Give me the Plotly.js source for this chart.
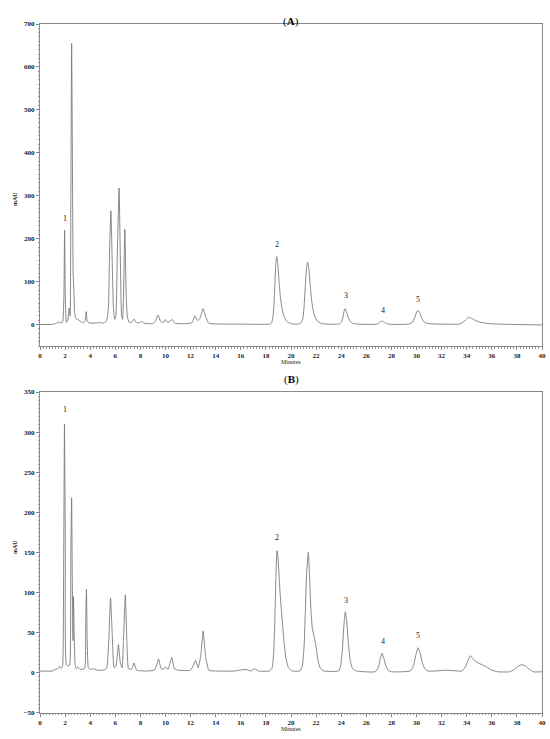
<!DOCTYPE html>
<html>
<head>
<meta charset="utf-8">
<script src="https://cdn.plot.ly/plotly-3.0.1.min.js"></script>
<style>html,body{margin:0;padding:0;background:#fff;}#chart{width:550px;height:739px;}</style>
</head>
<body>
<div id="chart"></div>
<script>
// Chromatogram (A): retention time (min) and absorbance (mAU)
const timeA = [0,1.0,1.2,1.4,1.55,1.65,1.8,1.9,1.96,2.02,2.1,2.2,2.32,2.4,2.46,2.52,2.58,2.64,2.7,2.76,2.85,3.0,3.2,3.4,3.6,3.68,3.76,3.9,4.2,4.6,4.8,5.0,5.3,5.45,5.55,5.65,5.75,5.85,5.95,6.05,6.15,6.3,6.42,6.5,6.58,6.65,6.76,6.86,6.95,7.1,7.3,7.5,7.65,7.9,8.1,8.3,9.0,9.2,9.4,9.6,9.8,10.0,10.2,10.5,10.75,11.5,12.1,12.35,12.55,12.75,13.0,13.2,13.45,14.5,16,17,
  18.3,18.45,18.55,18.65,18.72,18.8,18.87,18.95,19.05,19.15,19.3,19.45,19.65,19.9,20.2,
  20.6,20.8,20.95,21.05,21.15,21.25,21.33,21.42,21.52,21.62,21.75,21.9,22.1,22.4,22.8,
  23.8,24.0,24.12,24.22,24.32,24.42,24.55,24.7,24.9,25.3,
  26.8,27.0,27.2,27.35,27.55,27.9,
  29.4,29.7,29.9,30.05,30.15,30.3,30.45,30.65,31.0,
  33.4,33.7,33.95,34.15,34.35,34.6,34.9,35.3,35.8,36.5,38.0,40];
const mAU_A = [0,0.5,2,4,6,4,5,60,220,60,5,8,38,20,300,655,400,120,78,30,14,12,8,4,8,30,8,4,3,4,5,3,8,40,180,265,150,40,12,20,150,318,120,20,12,60,222,80,20,5,5,13,5,4,7,3,2,8,22,8,4,12,4,12,3,2,4,20,9,15,37,18,3,1,1,0.5,
  1,4,15,50,100,145,158,140,100,65,35,18,8,3,1,
  1,4,15,45,95,135,145,130,95,62,35,18,8,3,1,
  1,5,15,30,37,30,17,8,3,1,
  0.5,3,8,7,3,0.5,
  1,6,20,31,32,24,13,5,2,
  1,5,12,17,15,11,7,4,2,1,0,-1];

// Chromatogram (B)
const timeB = [0,1.0,1.2,1.45,1.55,1.7,1.8,1.88,1.95,2.02,2.1,2.3,2.4,2.46,2.52,2.57,2.63,2.67,2.72,2.8,2.9,3.0,3.2,3.55,3.64,3.7,3.76,3.85,4.0,4.2,4.6,5.0,5.3,5.45,5.62,5.75,5.9,6.05,6.25,6.4,6.55,6.65,6.8,6.92,7.05,7.3,7.5,7.7,8.5,9.1,9.3,9.45,9.65,9.85,10.0,10.2,10.5,10.7,11.0,12.0,12.4,12.6,12.8,13.0,13.2,13.45,14.0,15.5,16.4,16.8,17.1,17.4,
  18.3,18.5,18.62,18.72,18.8,18.88,18.96,19.05,19.15,19.3,19.45,19.6,19.8,20.1,
  20.7,20.9,21.05,21.15,21.25,21.38,21.48,21.58,21.7,21.85,22.0,22.15,22.35,22.6,
  23.8,23.95,24.1,24.22,24.33,24.45,24.58,24.72,24.9,25.2,
  26.7,26.95,27.1,27.25,27.4,27.55,27.75,28.0,
  29.5,29.75,29.95,30.12,30.3,30.45,30.65,30.9,
  31.5,32.4,33.3,
  33.6,33.9,34.1,34.3,34.5,34.8,35.2,35.6,36.0,36.5,
  37.4,37.8,38.1,38.4,38.7,39.0,39.3,40];
const mAU_B = [2,2,4,5,8,5,8,120,310,150,10,8,15,150,218,120,40,95,50,10,5,7,4,5,60,104,40,6,4,5,3,3,5,30,93,50,6,8,35,12,6,40,97,40,5,4,12,3,2,3,10,17,5,4,7,4,19,5,3,3,15,6,20,52,20,3,2,2,4,2,5,2,
  2,6,25,70,120,152,145,120,95,65,38,18,6,2,
  2,8,35,80,125,150,120,80,55,45,32,15,5,2,
  2,8,30,60,76,62,35,15,5,2,
  1,6,16,24,18,9,3,1,
  2,8,22,31,24,13,5,2,
  2,3,2,
  2,7,15,21,17,13,10,7,3,1,
  1,4,8,10,8,4,1,1];

// Peak labels
const peakNames = ["1","2","3","4","5"];
const peakTimeA = [2.0,18.9,24.4,27.3,30.1];
const peakLabelA = [232,172,52,17,42];
const peakTimeB = [2.0,18.9,24.4,27.3,30.1];
const peakLabelB = [320,160,82,31,38];

const lineColor = '#7a7a7a';
const serif = 'Liberation Serif, Times New Roman, serif';

const traces = [
  {x: timeA, y: mAU_A, type:'scatter', mode:'lines', line:{color:lineColor, width:0.9, shape:'spline', smoothing:0.4}, xaxis:'x', yaxis:'y', hoverinfo:'skip'},
  {x: timeB, y: mAU_B, type:'scatter', mode:'lines', line:{color:lineColor, width:0.9, shape:'spline', smoothing:0.4}, xaxis:'x2', yaxis:'y2', hoverinfo:'skip'}
];

function xax(anchor){
  return {anchor:anchor, range:[0,40], dtick:2, tick0:0, showgrid:false, zeroline:false,
    showline:true, linecolor:'#888', linewidth:1, mirror:true,
    ticks:'outside', ticklen:3, tickcolor:'#888',
    minor:{dtick:0.25, ticks:'outside', ticklen:1.5, tickcolor:'#999', showgrid:false},
    tickfont:{family:serif, size:7, color:'#222', weight:'bold'}};
}
function yax(anchor, range, dtick, mdt, dom){
  return {anchor:anchor, domain:dom, range:range, dtick:dtick, tick0:0, showgrid:false, zeroline:false,
    showline:true, linecolor:'#888', linewidth:1, mirror:true,
    ticks:'outside', ticklen:3, tickcolor:'#888',
    minor:{dtick:mdt, ticks:'outside', ticklen:1.5, tickcolor:'#999', showgrid:false},
    tickfont:{family:serif, size:7, color:'#222', weight:'bold'}};
}

const H = 739;
const annotations = [];
peakNames.forEach((n,i)=>{
  annotations.push({xref:'x', yref:'y', x:peakTimeA[i], y:peakLabelA[i], text:n, showarrow:false, yanchor:'bottom', font:{family:serif, size:8, color:'#222'}});
  annotations.push({xref:'x2', yref:'y2', x:peakTimeB[i], y:peakLabelB[i], text:n, showarrow:false, yanchor:'bottom', font:{family:serif, size:8, color:'#222'}});
});
annotations.push({xref:'paper', yref:'paper', x:0.5, y:1-13/H, text:'(<b>A</b>)', showarrow:false, font:{family:serif, size:11, color:'#000'}});
annotations.push({xref:'paper', yref:'paper', x:0.5, y:1-380/H, text:'(<b>B</b>)', showarrow:false, font:{family:serif, size:11, color:'#000'}});
annotations.push({xref:'paper', yref:'paper', x:0.5, y:1-362/H, text:'Minutes', showarrow:false, font:{family:serif, size:6, color:'#222'}});
annotations.push({xref:'paper', yref:'paper', x:0.5, y:1-734/H, text:'Minutes', showarrow:false, font:{family:serif, size:6, color:'#222'}});
annotations.push({xref:'paper', yref:'paper', x:-30/502, y:1-190/H, text:'mAU', textangle:-90, showarrow:false, font:{family:serif, size:6, color:'#222', weight:'bold'}});
annotations.push({xref:'paper', yref:'paper', x:-30/502, y:1-556/H, text:'mAU', textangle:-90, showarrow:false, font:{family:serif, size:6, color:'#222', weight:'bold'}});

const layout = {
  width:550, height:739,
  margin:{l:40, r:8, t:0, b:0},
  paper_bgcolor:'#fff', plot_bgcolor:'#fff',
  showlegend:false,
  xaxis: xax('y'),
  yaxis: yax('x', [-50,700], 100, 10, [1-346/H, 1-24/H]),
  xaxis2: xax('y2'),
  yaxis2: yax('x2', [-50,350], 50, 5, [1-712.7/H, 1-392/H]),
  annotations: annotations
};

Plotly.newPlot('chart', traces, layout, {staticPlot:true, displayModeBar:false});
</script>
</body>
</html>
